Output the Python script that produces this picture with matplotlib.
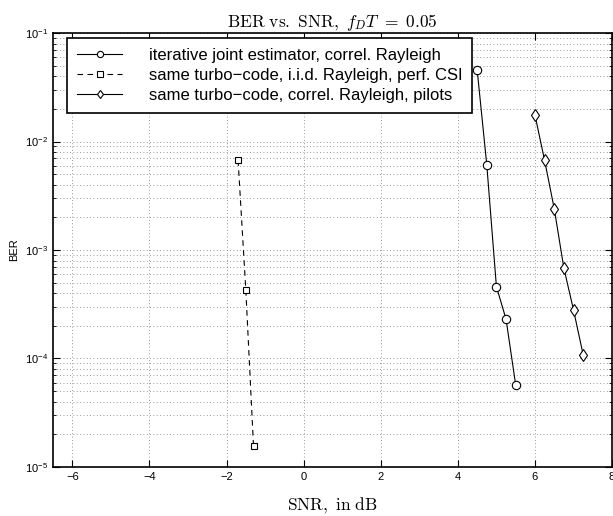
import matplotlib
matplotlib.use("Agg")
import matplotlib.pyplot as plt
from matplotlib.ticker import LogLocator, NullFormatter

plt.rcParams['font.family'] = ['Liberation Sans', 'DejaVu Sans']
plt.rcParams['mathtext.fontset'] = 'custom'
plt.rcParams['mathtext.rm'] = 'Liberation Sans'
plt.rcParams['mathtext.it'] = 'Liberation Sans:italic'

# datos
snr_iter = [4.5, 4.75, 5.0, 5.25, 5.5]
ber_iter = [0.046, 0.0061, 4.6e-4, 2.3e-4, 5.7e-5]

snr_iid = [-1.7, -1.5, -1.3]
ber_iid = [0.0067, 4.3e-4, 1.55e-5]

snr_pil = [6.0, 6.25, 6.5, 6.75, 7.0, 7.25]
ber_pil = [0.0175, 0.0067, 0.0024, 6.8e-4, 2.8e-4, 1.08e-4]

etiquetas = ["iterative joint estimator, correl. Rayleigh",
             "same turbo\u2212code, i.i.d. Rayleigh, perf. CSI",
             "same turbo\u2212code, correl. Rayleigh, pilots"]

fig = plt.figure(figsize=(6.13, 5.16), dpi=100)
ax = fig.add_axes([0.0865, 0.095, 0.912, 0.841])

estilo = dict(color='black', linewidth=0.8, markersize=6, markerfacecolor='white',
              markeredgewidth=0.8)
ax.semilogy(snr_iter, ber_iter, '-o', label=etiquetas[0], **estilo)
ax.semilogy(snr_iid, ber_iid, '--s', label=etiquetas[1], dashes=(5, 4), **{**estilo, 'markersize': 5})
ax.semilogy(snr_pil, ber_pil, '-d', label=etiquetas[2], **estilo)

ax.set_xlim(-6.5, 8)
ax.set_ylim(1e-5, 1e-1)
ax.set_xticks([-6, -4, -2, 0, 2, 4, 6, 8])
ax.yaxis.set_major_locator(LogLocator(base=10, numticks=10))
ax.yaxis.set_minor_locator(LogLocator(base=10, subs=range(2, 10), numticks=20))
ax.yaxis.set_minor_formatter(NullFormatter())

ax.grid(True, which='major', linestyle=(0, (1, 3)), color='#777777', linewidth=0.6)
ax.grid(True, which='minor', axis='y', linestyle=(0, (1, 3)), color='#777777', linewidth=0.6)
ax.tick_params(which='both', direction='in', top=True, right=True, labelsize=8)
ax.tick_params(which='major', length=5)
ax.tick_params(which='minor', length=2.5)
for s in ax.spines.values():
    s.set_linewidth(1.2)

ax.set_title(r'$\mathrm{BER\ vs.\ SNR,}\ f_D T\ =\ 0.05$', fontsize=12.5, math_fontfamily='cm', pad=3)
ax.set_xlabel(r'$\mathrm{SNR,\ in\ dB}$', fontsize=12.5, math_fontfamily='cm', labelpad=10)
ax.set_ylabel('BER', fontsize=8)

leg = ax.legend(loc='upper left', bbox_to_anchor=(0.025, 0.988), fontsize=12, handlelength=2.7,
                frameon=True, fancybox=False, edgecolor='black', borderpad=0.6, borderaxespad=0,
                labelspacing=0.28, handletextpad=1.6, framealpha=1, markerscale=0.75)
leg.get_frame().set_linewidth(1.2)

fig.savefig("out.png", dpi=100)
